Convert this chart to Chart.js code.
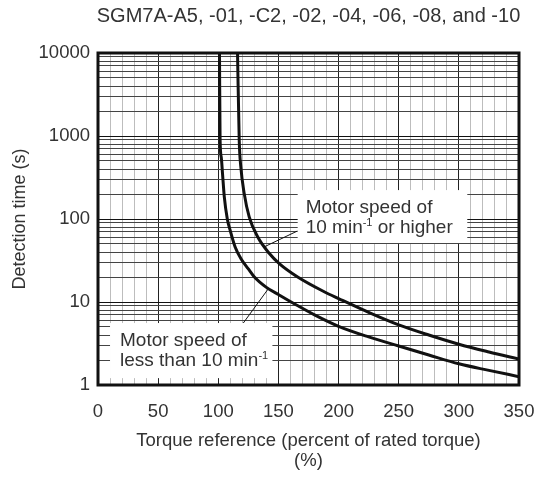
<!DOCTYPE html>
<html>
<head>
<meta charset="utf-8">
<script src="https://cdn.jsdelivr.net/npm/chart.js@4"></script>
<style>
  html, body { margin: 0; padding: 0; background: #fff; }
</style>
</head>
<body>
<canvas id="myChart" width="539" height="477"></canvas>
<script>
// curve: motor speed of less than 10 min-1
const lowX = [101, 101.5, 102.5, 103.5, 105, 107.5, 110, 114, 119, 125, 130, 140, 150, 165, 180, 200, 225, 250, 275, 300, 325, 350];
const lowY = [10000, 900, 550, 355, 185, 100, 72, 46, 33, 25, 20, 15, 12.3, 9.2, 7, 5.1, 3.8, 2.95, 2.3, 1.8, 1.5, 1.26];

// motor speed of 10 min-1 or higher
const highX = [116, 117.4, 118.7, 121.5, 125.7, 132.7, 142.3, 150.7, 166, 188, 200, 225, 250, 275, 300, 325, 350];
const highY = [10000, 890, 430, 205, 106, 61, 38.6, 29, 20, 13.3, 11, 7.5, 5.3, 4.0, 3.1, 2.5, 2.05];

const xLabels = [0, 50, 100, 150, 200, 250, 300, 350];
const yDecades = [1, 10, 100, 1000, 10000];

const titleText = 'SGM7A-A5, -01, -C2, -02, -04, -06, -08, and -10';
const yTitle = 'Detection time (s)';
const xTitle = ['Torque reference (percent of rated torque)', '(%)'];

const textColor = '#333';
const fontFamily = '"Liberation Sans", Arial, Helvetica, sans-serif';

// every 1..9 x 10^k for the log grid
const yGrid = [];
yDecades.forEach((d, i) => {
    if (i === yDecades.length - 1) { yGrid.push(d); return; }
    for (let m = 1; m < 10; m++) yGrid.push(m * d);
});

function toPoints(xs, ys) {
    return xs.map((x, i) => ({x: x, y: ys[i]}));
}

// draws text pieces, some of them as superscript
function drawParts(ctx, x, y, parts) {
    let cx = x;
    parts.forEach(p => {
        if (p.sup) {
            ctx.font = '11px ' + fontFamily;
            ctx.fillText(p.t, cx, y - 7);
        } else {
            ctx.font = '19px ' + fontFamily;
            ctx.fillText(p.t, cx, y);
        }
        cx += ctx.measureText(p.t).width;
    });
}

const notes = {
    id: 'notes',
    beforeDatasetsDraw(chart) {
        const ctx = chart.ctx;
        const xs = chart.scales.x, ys = chart.scales.y;
        const px = v => xs.getPixelForValue(v);
        const py = v => ys.getPixelForValue(v);
        ctx.save();

        // leader lines
        ctx.strokeStyle = '#111';
        ctx.lineWidth = 1;
        ctx.beginPath();
        ctx.moveTo(px(165.8), py(71.7));
        ctx.lineTo(px(138.8), py(46.6));
        ctx.moveTo(px(120.8), py(5.58));
        ctx.lineTo(px(141.7), py(14.5));
        ctx.stroke();

        // boxes
        ctx.fillStyle = '#fff';
        const bx1 = px(166), by1 = py(223);
        ctx.fillRect(bx1, by1, px(307) - bx1, py(51.4) - by1);
        const bx2 = px(10), by2 = py(5.58);
        ctx.fillRect(bx2, by2, px(145) - bx2, py(1.21) - by2);

        ctx.fillStyle = textColor;
        ctx.textBaseline = 'alphabetic';
        ctx.textAlign = 'left';
        drawParts(ctx, bx1 + 8, by1 + 23, [{t: 'Motor speed of'}]);
        drawParts(ctx, bx1 + 8, by1 + 43, [{t: '10 min'}, {t: '-1', sup: true}, {t: ' or higher'}]);
        drawParts(ctx, bx2 + 10, by2 + 23, [{t: 'Motor speed of'}]);
        drawParts(ctx, bx2 + 10, by2 + 43, [{t: 'less than 10 min'}, {t: '-1', sup: true}]);
        ctx.restore();
    },
    afterDatasetsDraw(chart) {
        const ctx = chart.ctx;
        const a = chart.chartArea;
        ctx.save();
        ctx.strokeStyle = '#111';
        ctx.lineWidth = 3;
        ctx.strokeRect(a.left, a.top, a.right - a.left, a.bottom - a.top);
        ctx.restore();
    },
    afterDraw(chart) {
        const ctx = chart.ctx;
        const a = chart.chartArea;
        ctx.save();
        ctx.fillStyle = textColor;
        ctx.font = '20px ' + fontFamily;
        ctx.textAlign = 'center';
        ctx.textBaseline = 'middle';
        ctx.fillText(titleText, (a.left + a.right) / 2, 16);
        ctx.restore();
    }
};

const ctx = document.getElementById('myChart').getContext('2d');
const myChart = new Chart(ctx, {
    type: 'line',
    data: {
        datasets: [{
            label: 'less than 10 min-1',
            data: toPoints(lowX, lowY),
            borderColor: '#111',
            borderWidth: 3,
            pointRadius: 0,
            cubicInterpolationMode: 'monotone'
        }, {
            label: '10 min-1 or higher',
            data: toPoints(highX, highY),
            borderColor: '#111',
            borderWidth: 3,
            pointRadius: 0,
            cubicInterpolationMode: 'monotone'
        }]
    },
    options: {
        responsive: false,
        animation: false,
        layout: { padding: { top: 53, right: 20, left: 0, bottom: 0 } },
        plugins: {
            legend: { display: false },
            tooltip: { enabled: false }
        },
        scales: {
            x: {
                type: 'linear',
                min: 0,
                max: 350,
                afterFit: s => { s.height = 92; s.paddingLeft = 0; s.paddingRight = 0; },
                border: { display: false },
                grid: {
                    drawTicks: false,
                    color: c => (c.tick.value % 50 === 0 ? '#222' : '#bdbdbd'),
                    lineWidth: 1
                },
                ticks: {
                    stepSize: 10,
                    autoSkip: false,
                    maxRotation: 0,
                    padding: 16,
                    color: textColor,
                    font: { size: 18.5, family: fontFamily },
                    callback: v => (xLabels.includes(v) ? String(v) : '')
                },
                title: {
                    display: true,
                    text: xTitle,
                    color: textColor,
                    font: { size: 18.5, family: fontFamily, lineHeight: 1.1 },
                    padding: { top: 0, bottom: 6 }
                }
            },
            y: {
                type: 'logarithmic',
                min: 1,
                max: 10000,
                afterFit: s => { s.width = 98; },
                afterBuildTicks: s => { s.ticks = yGrid.map(v => ({value: v})); },
                border: { display: false },
                grid: {
                    drawTicks: false,
                    color: c => (yDecades.includes(c.tick.value) ? '#111' : '#444'),
                    lineWidth: 1
                },
                ticks: {
                    autoSkip: false,
                    padding: 8,
                    color: textColor,
                    font: { size: 18.5, family: fontFamily },
                    callback: v => (yDecades.includes(v) ? String(v) : '')
                },
                title: {
                    display: true,
                    text: yTitle,
                    color: textColor,
                    font: { size: 18, family: fontFamily, lineHeight: 1.2 },
                    padding: { top: 9, bottom: 0 }
                }
            }
        }
    },
    plugins: [notes]
});
</script>
</body>
</html>
